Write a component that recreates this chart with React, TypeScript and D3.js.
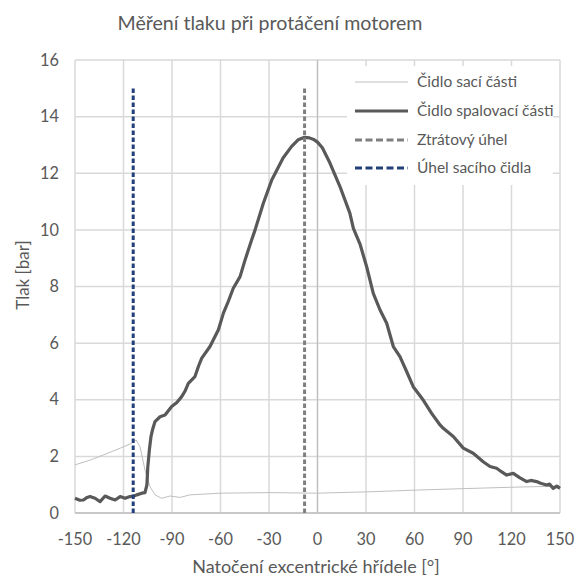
import React from "react";
import * as d3 from "d3";

const title = "Měření tlaku při protáčení motorem";
const xTitle = "Natočení excentrické hřídele [°]";
const yTitle = "Tlak [bar]";
const xTicks = [-150, -120, -90, -60, -30, 0, 30, 60, 90, 120, 150];
const yTicks = [0, 2, 4, 6, 8, 10, 12, 14, 16];
const seriesNames = ["Čidlo sací části", "Čidlo spalovací části", "Ztrátový úhel", "Úhel sacího čidla"];

// Čidlo spalovací části (combustion sensor)
const combAngle = [
  -150, -147, -144.8, -142.5, -140.7, -137.6, -134.5, -131.4, -128.3, -125.2, -122.1, -119, -116, -113.5,
  -111.8, -108.7, -106.7, -105.5, -105, -104, -103, -102, -100.5, -97.4, -94.3, -90.2, -87, -84, -82,
  -79.9, -75.8, -73.5, -71.6, -66.5, -61.3, -58.2, -55.2, -52.1, -47.9, -44.8, -40.7, -38.6, -33.5,
  -28.3, -21.3, -16, -12, -8, -5, -2, 0, 3, 7.7, 13.9, 20, 22.2, 26.3, 30.4, 34.5, 38.7, 42.8, 46.9,
  51, 55.2, 59.2, 65.4, 70.6, 75.8, 77.8, 84, 90.2, 96.3, 102.5, 106.7, 110.8, 114, 117, 121.1, 125,
  129.4, 132, 135.5, 138, 141.7, 143.5, 145.8, 148, 150,
];
const combValue = [
  0.52, 0.45, 0.46, 0.55, 0.58, 0.52, 0.4, 0.6, 0.52, 0.46, 0.58, 0.52, 0.58, 0.6,
  0.64, 0.7, 0.72, 1.0, 1.6, 2.23, 2.7, 2.95, 3.23, 3.4, 3.46, 3.76, 3.9, 4.11, 4.3,
  4.58, 4.82, 5.2, 5.47, 5.88, 6.47, 7.06, 7.47, 7.94, 8.35, 8.94, 9.65, 10.0, 10.94,
  11.76, 12.54, 12.95, 13.18, 13.27, 13.25, 13.18, 13.1, 12.9, 12.36, 11.53, 10.59, 10.05, 9.5, 8.7, 7.76, 7.17, 6.7, 5.88,
  5.52, 4.99, 4.46, 3.99, 3.52, 3.11, 2.99, 2.7, 2.29, 2.11, 1.81, 1.64, 1.58, 1.45, 1.34, 1.4, 1.25,
  1.11, 1.15, 1.11, 1.05, 0.99, 1.02, 0.87, 0.95, 0.87,
];

// Čidlo sací části (intake sensor)
const intakeAngle = [
  -150, -140, -132.5, -122, -115, -112.2, -109.8, -106.7, -103.6, -100.5, -96.4, -91.2, -85, -78.9,
  -60.3, -29.4, -0.5, 32.5, 61.3, 90, 120, 150,
];
const intakeValue = [
  1.7, 1.88, 2.05, 2.29, 2.46, 2.58, 2.34, 1.52, 0.93, 0.64, 0.52, 0.6, 0.55, 0.64,
  0.7, 0.72, 0.7, 0.75, 0.81, 0.86, 0.91, 0.95,
];

const lossAngle = -8;
const intakeSensorAngle = -114;
const markerTop = 15;

const FONT = "Lato, 'Open Sans', sans-serif";
const TEXT = "#595959";

export default function App() {
  const W = 576, H = 579;
  const x = d3.scaleLinear().domain([-150, 150]).range([75, 560]);
  const y = d3.scaleLinear().domain([0, 16]).range([513, 60]);
  const line = d3.line<[number, number]>().x(d => x(d[0])).y(d => y(d[1]));
  const comb = combAngle.map((a, i) => [a, combValue[i]] as [number, number]);
  const intake = intakeAngle.map((a, i) => [a, intakeValue[i]] as [number, number]);

  const legendX = 355, legendTextX = 417;
  const legendRows = [82, 111, 140, 168];

  return (
    <svg width={W} height={H} style={{ position: "absolute", left: 0, top: 0, background: "#fff" }} fontFamily={FONT}>
      <rect x={0} y={0} width={W} height={H} fill="#fff" />
      <text x={270} y={30} textAnchor="middle" fontSize={19.6} fill={TEXT}>{title}</text>
      {/* grid */}
      {yTicks.map(t => (
        <line key={"gy" + t} x1={x(-150)} x2={x(150)} y1={y(t)} y2={y(t)} stroke="#d9d9d9" strokeWidth={1.5} />
      ))}
      {xTicks.map(t => (
        <line key={"gx" + t} x1={x(t)} x2={x(t)} y1={y(0)} y2={y(16)} stroke={t === 0 ? "#bfbfbf" : "#d9d9d9"} strokeWidth={1.5} />
      ))}
      <line x1={x(-150)} x2={x(150)} y1={y(0)} y2={y(0)} stroke="#bfbfbf" strokeWidth={1.5} />
      {/* legend background */}
      <rect x={347} y={66} width={206} height={119} fill="#fff" />
      {/* tick labels */}
      {yTicks.map(t => (
        <text key={"ly" + t} x={59} y={y(t)} dy="0.35em" textAnchor="end" fontSize={16.3} fill={TEXT}>{t}</text>
      ))}
      {xTicks.map(t => (
        <text key={"lx" + t} x={x(t)} y={545} textAnchor="middle" fontSize={16.3} fill={TEXT}>{t}</text>
      ))}
      <text x={316} y={573} textAnchor="middle" fontSize={18} fill={TEXT}>{xTitle}</text>
      <text transform={`translate(29,275) rotate(-90)`} textAnchor="middle" fontSize={17} fill={TEXT}>{yTitle}</text>
      {/* series */}
      <path d={line(intake) || ""} fill="none" stroke="#bfbfbf" strokeWidth={1} />
      <path d={line(comb) || ""} fill="none" stroke="#595959" strokeWidth={3.2} strokeLinejoin="round" />
      <line x1={x(lossAngle)} x2={x(lossAngle)} y1={y(0)} y2={y(markerTop)} stroke="#7f7f7f" strokeWidth={3} strokeDasharray="4.5,2.5" />
      <line x1={x(intakeSensorAngle)} x2={x(intakeSensorAngle)} y1={y(0)} y2={y(markerTop)} stroke="#223f7a" strokeWidth={3} strokeDasharray="4.5,2.5" />
      {/* legend */}
      <line x1={legendX} x2={408} y1={legendRows[0]} y2={legendRows[0]} stroke="#bfbfbf" strokeWidth={1} />
      <line x1={legendX} x2={408} y1={legendRows[1]} y2={legendRows[1]} stroke="#595959" strokeWidth={3} />
      <line x1={legendX} x2={408} y1={legendRows[2]} y2={legendRows[2]} stroke="#7f7f7f" strokeWidth={3} strokeDasharray="7,3.5" />
      <line x1={legendX} x2={408} y1={legendRows[3]} y2={legendRows[3]} stroke="#223f7a" strokeWidth={3} strokeDasharray="7,3.5" />
      {seriesNames.map((n, i) => (
        <text key={n} x={legendTextX} y={legendRows[i]} dy="0.35em" fontSize={15.5} fill={TEXT}>{n}</text>
      ))}
    </svg>
  );
}
